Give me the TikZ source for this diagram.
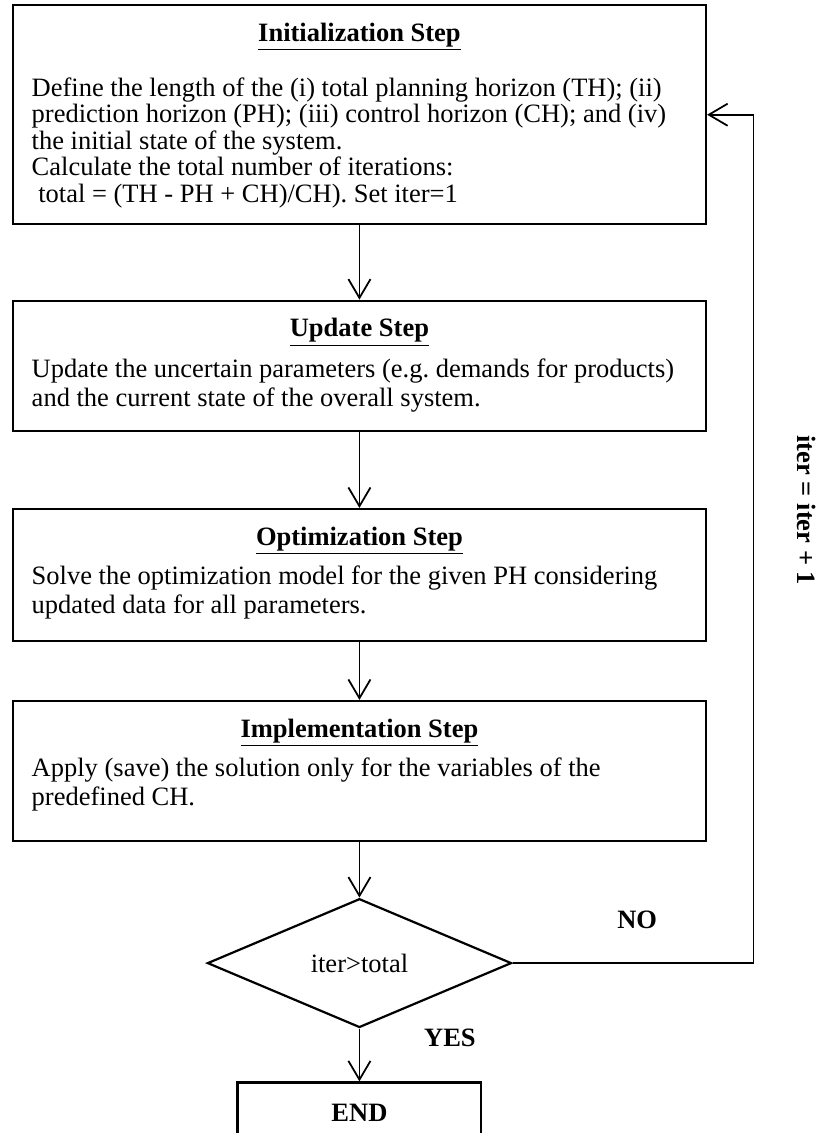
\documentclass[tikz,border=0pt]{standalone}
\usepackage{fontspec}
\setmainfont{Liberation Serif}
\usetikzlibrary{positioning,shapes.geometric,arrows.meta}

\tikzset{
  stepbox/.style={draw, rectangle, line width=1pt, inner xsep=0.3cm, inner ysep=0pt, minimum width=11.03cm},
  decision/.style={draw, diamond, line width=1pt, inner sep=0pt, minimum width=4.84cm, minimum height=2.05cm},
  flow/.style={line width=0.8pt, -{Straight Barb[length=8.5pt,width=10pt]}},
}

\begin{document}
\frenchspacing
\begin{tikzpicture}[font=\fontsize{12}{12.3}\selectfont]
    \useasboundingbox (0,0) rectangle (13.07,-18.03);

    \node (init) [stepbox, below = 0pt, at={(5.72,-0.063)}] {\parbox[c][3.49cm][t]{10.43cm}{\fontsize{12}{12}\selectfont\vspace*{8pt}\centering\underline{\textbf{Initialization Step}}\par\vspace{11pt}\raggedright
      Define the length of the (i) total planning horizon (TH); (ii)\\
      prediction horizon (PH); (iii) control horizon (CH); and (iv)\\
      the initial state of the system.\\
      Calculate the total number of iterations:\\
      \hspace*{0.25em}total = (TH - PH + CH)/CH). Set iter=1}};
    \node (update) [stepbox, below = 1.18cm, at=(init.south)] {\parbox[c][2.07cm][t]{10.43cm}{\fontsize{12}{13.3}\selectfont\vspace*{8pt}\centering\underline{\textbf{Update Step}}\par\vspace{5pt}\raggedright
      Update the uncertain parameters (e.g. demands for products)\\
      and the current state of the overall system.}};
    \node (optim) [stepbox, below = 1.21cm, at=(update.south)] {\parbox[c][2.10cm][t]{10.43cm}{\fontsize{12}{13.3}\selectfont\vspace*{8pt}\centering\underline{\textbf{Optimization Step}}\par\vspace{4.5pt}\raggedright
      Solve the optimization model for the given PH considering\\
      updated data for all parameters.}};
    \node (impl) [stepbox, below = 0.92cm, at=(optim.south)] {\parbox[c][2.23cm][t]{10.43cm}{\fontsize{12}{13.3}\selectfont\vspace*{8pt}\centering\underline{\textbf{Implementation Step}}\par\vspace{4.5pt}\raggedright
      Apply (save) the solution only for the variables of the\\
      predefined CH.}};
    \node (check) [decision, below = 0.88cm, at=(impl.south)] {iter>total};
    \node (end) [stepbox, minimum width=3.88cm, minimum height=0.97cm, below = 0.84cm, at=(check.south)] {\textbf{END}};

    \node (no) at (10.14,-14.64) {\textbf{NO}};
    \node (yes) at (7.16,-16.51) {\textbf{YES}};
    \node (incr) [rotate=-90] at (12.84,-8.12) {\textbf{iter = iter + 1}};
    \coordinate (loop) at (11.99,0);

    \path[draw,flow]
    (init) edge (update)
    (update) edge (optim)
    (optim) edge (impl)
    (impl) edge (check)
    (check) edge (end)
    ;
    \draw[flow] (check.east) -| (loop |- init.east) -- (init.east);
\end{tikzpicture}
\end{document}
